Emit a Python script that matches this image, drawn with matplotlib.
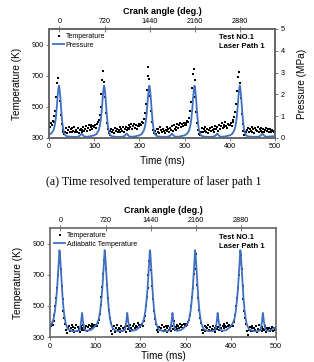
import numpy as np
import matplotlib
matplotlib.use("Agg")
import matplotlib.pyplot as plt

plt.rcParams['font.family'] = ['Liberation Sans', 'DejaVu Sans']

# measured temperature (K), one value every 2 ms, panel (a)
temp_a = [
    385, 372, 395, 380, 410, 400, 440, 470, 560, 650, 685, 620, 540, 450, 390, 350, 335, 325, 340, 365,
    330, 350, 372, 340, 355, 338, 362, 345, 370, 335, 352, 340, 365, 330, 348, 360, 335, 350, 368, 342,
    356, 375, 345, 362, 380, 352, 370, 385, 360, 378,
    370, 382, 365, 390, 400, 415, 450, 500, 580, 670, 730, 660, 560, 460, 395, 355, 332, 320, 345, 360,
    338, 352, 330, 365, 345, 358, 335, 350, 372, 340, 360, 345, 368, 338, 355, 372, 348, 362, 380, 355,
    370, 388, 358, 375, 392, 365, 382, 360, 378, 390,
    375, 392, 380, 405, 395, 420, 460, 520, 610, 700, 756, 680, 570, 470, 400, 352, 330, 345, 325, 360,
    340, 355, 332, 368, 348, 338, 360, 345, 330, 352, 372, 342, 358, 335, 362, 350, 375, 345, 385, 360,
    372, 350, 390, 365, 380, 398, 370, 388, 375, 395,
    380, 398, 385, 410, 400, 430, 470, 530, 620, 710, 743, 670, 565, 465, 398, 350, 328, 318, 340, 362,
    335, 355, 345, 370, 338, 358, 332, 350, 365, 342, 372, 348, 360, 338, 375, 355, 368, 345, 382, 358,
    375, 395, 362, 385, 372, 400, 378, 365, 390, 382,
    385, 395, 378, 405, 415, 432, 468, 520, 600, 690, 724, 650, 555, 455, 390, 345, 318, 300, 335, 350,
    362, 338, 355, 345, 370, 340, 358, 332, 365, 350, 345, 372, 338, 355, 362, 345, 340, 358, 335, 350,
    365, 342, 355, 338, 360, 348, 335, 352, 345, 340,
]

# measured temperature (K), one value every 2 ms, panel (b)
temp_b = [
    360, 372, 385, 378, 405, 440, 500, 550, 615, 700, 790, 830, 735, 630, 545, 470, 420, 385, 345, 328, 355,
    372, 338, 360, 380, 345, 365, 335, 358, 375, 340, 362, 350, 330, 368, 345, 360, 378, 342, 355,
    370, 338, 362, 380, 350, 372, 358, 385, 368, 378,
    372, 380, 368, 392, 410, 445, 505, 560, 620, 705, 795, 835, 740, 635, 550, 475, 425, 390, 340, 322, 350,
    368, 335, 355, 378, 342, 360, 332, 352, 370, 338, 358, 345, 365, 335, 372, 350, 362, 340, 375,
    358, 345, 368, 382, 355, 370, 362, 388, 375, 380,
    365, 378, 385, 372, 400, 438, 498, 555, 612, 698, 788, 828, 732, 628, 542, 468, 418, 382, 342, 330, 352,
    365, 342, 358, 375, 338, 362, 348, 370, 335, 355, 372, 345, 360, 338, 368, 352, 405, 345, 362,
    378, 350, 370, 358, 382, 365, 375, 360, 385, 372,
    370, 382, 375, 395, 408, 442, 502, 558, 618, 702, 792, 832, 738, 632, 548, 472, 422, 388, 345, 325, 348,
    370, 340, 362, 355, 378, 345, 365, 338, 352, 372, 342, 360, 335, 368, 350, 362, 345, 375, 358,
    340, 368, 382, 355, 372, 362, 388, 370, 378, 365,
    368, 380, 372, 398, 405, 440, 500, 552, 615, 700, 790, 830, 735, 630, 545, 470, 420, 385, 340, 310, 348,
    362, 340, 355, 372, 338, 360, 345, 368, 335, 352, 375, 342, 358, 338, 365, 350, 345, 368, 335,
    355, 342, 360, 338, 352, 345, 365, 340, 355, 348,
]
temp_time = np.arange(0, 500, 2)

# cylinder pressure (MPa)
p_time = [
    0, 5, 10, 13, 15, 17, 19, 21, 22, 23, 25, 27, 29, 31, 33, 36, 40, 50, 62, 68, 72, 76, 80, 90,
    100, 105, 110, 113, 115, 117, 119, 121, 122, 123, 125, 127, 129, 131, 133, 136, 140, 150, 162, 168, 172, 176, 180, 190,
    200, 205, 210, 213, 215, 217, 219, 221, 222, 223, 225, 227, 229, 231, 233, 236, 240, 250, 262, 268, 272, 276, 280, 290,
    300, 305, 310, 313, 315, 317, 319, 321, 322, 323, 325, 327, 329, 331, 333, 336, 340, 350, 362, 368, 372, 376, 380, 390,
    400, 405, 410, 413, 415, 417, 419, 421, 422, 423, 425, 427, 429, 431, 433, 436, 440, 450, 462, 468, 472, 476, 480, 490,
    500,
]
p_val = [
    0.15, 0.2, 0.35, 0.6, 0.9, 1.35, 1.9, 2.3, 2.4, 2.3, 1.9, 1.3, 0.8, 0.45, 0.25, 0.12, 0.07, 0.05, 0.05, 0.1, 0.2, 0.1, 0.05, 0.07,
    0.12, 0.18, 0.35, 0.6, 0.9, 1.35, 1.9, 2.3, 2.4, 2.3, 1.9, 1.3, 0.8, 0.45, 0.25, 0.12, 0.07, 0.05, 0.05, 0.1, 0.2, 0.1, 0.05, 0.07,
    0.12, 0.18, 0.35, 0.6, 0.9, 1.35, 1.9, 2.3, 2.4, 2.3, 1.9, 1.3, 0.8, 0.45, 0.25, 0.12, 0.07, 0.05, 0.05, 0.1, 0.2, 0.1, 0.05, 0.07,
    0.12, 0.18, 0.35, 0.6, 0.9, 1.35, 1.9, 2.3, 2.4, 2.3, 1.9, 1.3, 0.8, 0.45, 0.25, 0.12, 0.07, 0.05, 0.05, 0.1, 0.2, 0.1, 0.05, 0.07,
    0.12, 0.18, 0.35, 0.6, 0.9, 1.35, 1.9, 2.3, 2.4, 2.3, 1.9, 1.3, 0.8, 0.45, 0.25, 0.12, 0.07, 0.05, 0.05, 0.1, 0.2, 0.1, 0.05, 0.07,
    0.08,
]

# adiabatic temperature (K)
ad_time = [
    0, 4, 8, 11, 14, 16, 18, 20, 21, 22, 24, 26, 28, 30, 32, 35, 40, 50, 60, 66, 69, 71, 73, 76, 80, 90, 96,
    100, 104, 108, 111, 114, 116, 118, 120, 121, 122, 124, 126, 128, 130, 132, 135, 140, 150, 160, 166, 169, 171, 173, 176, 180, 190, 196,
    200, 204, 208, 211, 214, 216, 218, 220, 221, 222, 224, 226, 228, 230, 232, 235, 240, 250, 260, 266, 269, 271, 273, 276, 280, 290, 296,
    300, 304, 308, 311, 314, 316, 318, 320, 321, 322, 324, 326, 328, 330, 332, 335, 340, 350, 360, 366, 369, 371, 373, 376, 380, 390, 396,
    400, 404, 408, 411, 414, 416, 418, 420, 421, 422, 424, 426, 428, 430, 432, 435, 440, 450, 460, 466, 469, 471, 473, 476, 480, 490, 496,
    500,
]
ad_val = [
    365, 385, 415, 465, 545, 615, 705, 805, 858, 840, 745, 645, 555, 485, 435, 385, 350, 338, 338, 345, 400, 455, 405, 352, 340, 345, 358,
    370, 385, 415, 465, 545, 615, 705, 805, 858, 840, 745, 645, 555, 485, 435, 385, 350, 338, 338, 345, 400, 455, 405, 352, 340, 345, 358,
    370, 385, 415, 465, 545, 615, 705, 805, 858, 840, 745, 645, 555, 485, 435, 385, 350, 338, 338, 345, 400, 455, 405, 352, 340, 345, 358,
    370, 385, 415, 465, 545, 615, 705, 805, 858, 840, 745, 645, 555, 485, 435, 385, 350, 338, 338, 345, 400, 455, 405, 352, 340, 345, 358,
    370, 385, 415, 465, 545, 615, 705, 805, 858, 840, 745, 645, 555, 485, 435, 385, 350, 338, 338, 345, 400, 455, 405, 352, 340, 345, 358,
    362,
]

crank_ticks = [0, 720, 1440, 2160, 2880]
tdc_ms = 23  # time of crank angle 0
blue = "#3f6fc0"
spine_col = "#666666"


def style_axes(ax, xpad=4):
    for s in ax.spines.values():
        s.set_color(spine_col)
        s.set_linewidth(1.2)
    ax.set_xlim(0, 500)
    ax.set_ylim(300, 1000)
    ax.set_xticks([0, 100, 200, 300, 400, 500])
    ax.set_yticks([300, 500, 700, 900])
    ax.tick_params(labelsize=5.2, length=2, width=0.6, color=spine_col, pad=2)
    ax.set_xlabel("Time (ms)", fontsize=7.2, labelpad=xpad)
    ax.set_ylabel("Temperature (K)", fontsize=7.2, labelpad=7)
    # crank angle axis on top
    top = ax.secondary_xaxis('top', functions=(lambda t: (t - tdc_ms) * 7.2,
                                               lambda c: c / 7.2 + tdc_ms))
    top.set_xticks(crank_ticks)
    top.tick_params(labelsize=5.2, length=4, width=0.6, color=spine_col,
                    direction='inout', pad=1)
    top.spines['top'].set_visible(False)
    top.set_xlabel("Crank angle (deg.)", fontsize=6.5, fontweight='bold', labelpad=3)
    ax.text(0.75, 0.95, "Test NO.1\nLaser Path 1", transform=ax.transAxes,
            fontsize=5.5, fontweight='bold', va='top', ha='left', linespacing=1.4)


fig = plt.figure(figsize=(3.14, 3.62), dpi=100)

# panel (a)
ax1 = fig.add_axes([0.156, 0.619, 0.720, 0.301])
style_axes(ax1)
ax1.plot(temp_time, temp_a, 's', color='black', markersize=1.7, markeredgewidth=0,
         label='Temperature', zorder=3)
ax1r = ax1.twinx()
ax1r.plot(p_time, p_val, color=blue, linewidth=1.3, label='Pressure')
ax1r.set_ylim(0, 5)
ax1r.set_yticks([0, 1, 2, 3, 4, 5])
ax1r.tick_params(labelsize=5.2, length=2, width=0.6, color=spine_col, pad=2)
for s in ax1r.spines.values():
    s.set_color(spine_col)
    s.set_linewidth(1.2)
ax1r.set_ylabel("Pressure (MPa)", fontsize=7.2, labelpad=9)
h1, l1 = ax1.get_legend_handles_labels()
h2, l2 = ax1r.get_legend_handles_labels()
ax1.legend(h1 + h2, l1 + l2, loc='upper left', fontsize=5, frameon=False,
           handlelength=1.6, handletextpad=0.2, borderaxespad=0.2,
           labelspacing=0.2, markerscale=1.0)

fig.text(0.49, 0.497, "(a) Time resolved temperature of laser path 1",
         ha='center', va='center', fontsize=8.6, family=['Liberation Serif'])

# panel (b)
ax2 = fig.add_axes([0.159, 0.069, 0.720, 0.301])
style_axes(ax2, xpad=1)
ax2.plot(temp_time, temp_b, 's', color='black', markersize=1.7, markeredgewidth=0,
         label='Temperature', zorder=2)
ax2.plot(ad_time, ad_val, color=blue, linewidth=1.3, label='Adiabatic Temperature', zorder=3)
ax2.legend(loc='upper left', fontsize=5, frameon=False, handlelength=1.6,
           handletextpad=0.2, borderaxespad=0.2, labelspacing=0.2, markerscale=1.0)

fig.savefig("out.png", dpi=100)
